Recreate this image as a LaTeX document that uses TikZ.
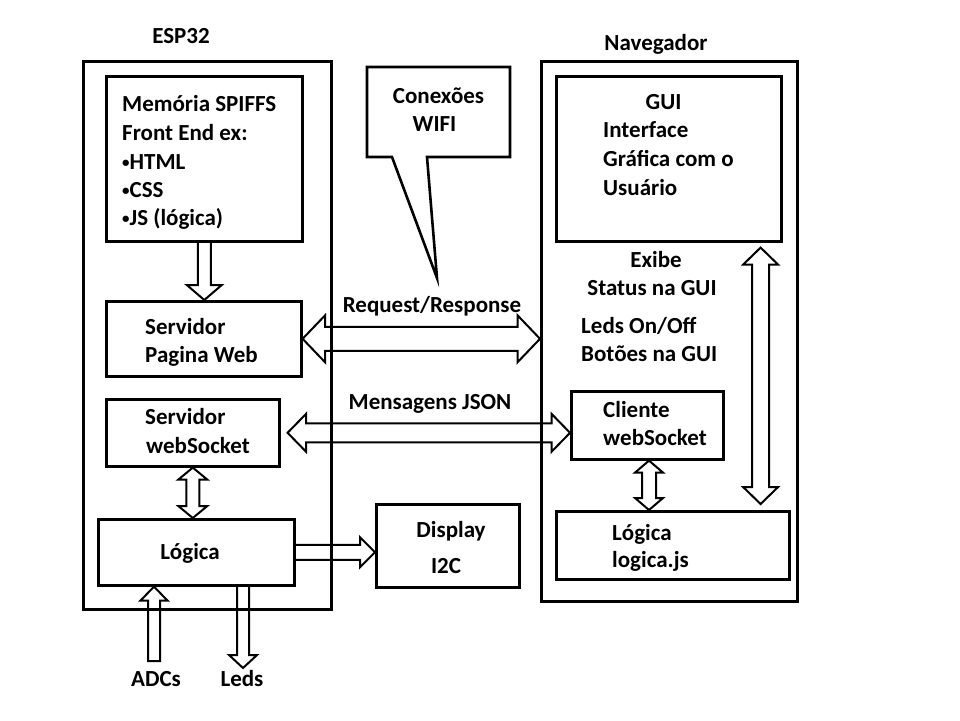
\documentclass[tikz,border=0pt]{standalone}
\usepackage{fontspec}
\setmainfont{Carlito}
\usetikzlibrary{calc}
\newcommand\smbul{\raisebox{1.6pt}{\scalebox{0.65}{•}}}
% horizontal double block arrow: left tip, right tip, shaft half, head half, head length
\newcommand\hdbl[5]{\draw[blk] let \p1=(#1), \p2=(#2) in
 (\x1,\y1) -- (\x1+#5,\y1+#4) -- (\x1+#5,\y1+#3) -- (\x2-#5,\y1+#3) -- (\x2-#5,\y1+#4) -- (\x2,\y1)
 -- (\x2-#5,\y1-#4) -- (\x2-#5,\y1-#3) -- (\x1+#5,\y1-#3) -- (\x1+#5,\y1-#4) -- cycle;}
% horizontal single block arrow to the right: tail, tip
\newcommand\hsgl[5]{\draw[blk] let \p1=(#1), \p2=(#2) in
 (\x1,\y1+#3) -- (\x2-#5,\y1+#3) -- (\x2-#5,\y1+#4) -- (\x2,\y1) -- (\x2-#5,\y1-#4) -- (\x2-#5,\y1-#3) -- (\x1,\y1-#3);}
% vertical double block arrow: top tip, bottom tip
\newcommand\vdbl[5]{\draw[blk] let \p1=(#1), \p2=(#2) in
 (\x1,\y1) -- (\x1+#4,\y1-#5) -- (\x1+#3,\y1-#5) -- (\x1+#3,\y2+#5) -- (\x1+#4,\y2+#5) -- (\x1,\y2)
 -- (\x1-#4,\y2+#5) -- (\x1-#3,\y2+#5) -- (\x1-#3,\y1-#5) -- (\x1-#4,\y1-#5) -- cycle;}
% vertical block arrow downwards: tail (top), tip (bottom)
\newcommand\vdown[5]{\draw[blk] let \p1=(#1), \p2=(#2) in
 (\x1-#3,\y1) -- (\x1-#3,\y2+#5) -- (\x1-#4,\y2+#5) -- (\x1,\y2) -- (\x1+#4,\y2+#5) -- (\x1+#3,\y2+#5) -- (\x1+#3,\y1);}
% vertical block arrow upwards: tail (bottom), tip (top)
\newcommand\vup[5]{\draw[blk] let \p1=(#1), \p2=(#2) in
 (\x1-#3,\y1) -- (\x1-#3,\y2-#5) -- (\x1-#4,\y2-#5) -- (\x1,\y2) -- (\x1+#4,\y2-#5) -- (\x1+#3,\y2-#5) -- (\x1+#3,\y1) -- cycle;}
\begin{document}
\begin{tikzpicture}[x=1pt,y=-1pt,
  box/.style={draw, line width=2.6pt, inner sep=0pt, anchor=north west},
  lbl/.style={font=\fontsize{23}{28}\selectfont\bfseries, inner sep=0pt, anchor=base west},
  clbl/.style={lbl, anchor=base},
  blk/.style={draw, line width=2pt, line join=miter}]
\useasboundingbox (0,0) rectangle (960,720);
\fill[white] (0,0) rectangle (960,720);

% boxes
\node[box, minimum width=248pt, minimum height=548pt] (esp) at (82,60) {};
\node[box, minimum width=196pt, minimum height=165pt] (mem) at (105,75) {};
\node[box, minimum width=195pt, minimum height=75pt] (srv) at (105,300) {};
\node[box, minimum width=173pt, minimum height=67pt] (ws) at (105,398) {};
\node[box, minimum width=196pt, minimum height=66pt] (lg) at (97,518) {};
\node[box, minimum width=143pt, minimum height=83pt] (disp) at (375,503) {};
\node[box, minimum width=256pt, minimum height=540pt] (nav) at (540,60) {};
\node[box, minimum width=225pt, minimum height=165pt] (gui) at (555,75) {};
\node[box, minimum width=152pt, minimum height=68pt] (cli) at (570,390) {};
\node[box, minimum width=233pt, minimum height=68pt] (nlg) at (555,510) {};

% speech bubble
\draw[line width=2.6pt, line join=miter] (367,67) -- (510,67) -- (510,157) -- (427,157) -- (437,278) -- (392,157) -- (367,157) -- cycle;

% titles
\node[clbl] (tesp) at (181,43) {ESP32};
\node[clbl] (tnav) at (656,50) {Navegador};

% texts ESP32
\node[lbl] (m1) at (122,111) {Memória SPIFFS};
\node[lbl] (m2) at (122,140) {Front End ex:};
\node[lbl] (m3) at (122,169) {\smbul HTML};
\node[lbl] (m4) at (122,197) {\smbul CSS};
\node[lbl] (m5) at (122,225) {\smbul JS (lógica)};
\node[lbl] (s1) at (145,334) {Servidor};
\node[lbl] (s2) at (145,362) {Pagina Web};
\node[lbl] (w1) at (145,424) {Servidor};
\node[lbl] (w2) at (146,453) {webSocket};
\node[clbl] (l1) at (190,559) {Lógica};
\node[clbl] (d1) at (451,537) {Display};
\node[clbl] (d2) at (446,573) {I2C};
\node[clbl] (adc) at (156,686) {ADCs};
\node[clbl] (leds) at (242,686) {Leds};

% middle texts
\node[clbl] (rr) at (432,312) {Request/Response};
\node[clbl] (mj) at (430,409) {Mensagens JSON};
\node[clbl] (c1) at (438.5,103) {Conexões};
\node[clbl] (c2) at (434.5,131) {WIFI};

% texts Navegador
\node[clbl] (g0) at (663.5,109) {GUI};
\node[lbl] (g1) at (603,137) {Interface};
\node[lbl] (g2) at (603,166) {Gráfica com o};
\node[lbl] (g3) at (603,195) {Usuário};
\node[clbl] (e1) at (656,267) {Exibe};
\node[clbl] (e2) at (652,295) {Status na GUI};
\node[lbl] (b1) at (581,333) {Leds On/Off};
\node[lbl] (b2) at (581,361) {Botões na GUI};
\node[lbl] (k1) at (603,417) {Cliente};
\node[lbl] (k2) at (603,445) {webSocket};
\node[lbl] (n1) at (612,540) {Lógica};
\node[lbl] (n2) at (612,567) {logica.js};

% connector coordinates
\coordinate (jsl) at ($(ws.east)+(7,0)$);
\coordinate (adct) at (154,661);
\coordinate (ledt) at (243,668);
\coordinate (clix) at (649,0);
\coordinate (bigt) at ($(gui.south east)+(-22,5)$);
\coordinate (bigb) at ($(bigt |- nlg.north)+(0,-6)$);

% block arrows
\vdown{mem.south}{mem.south |- srv.north}{6.5pt}{17.5pt}{15pt}
\hdbl{srv.east}{nav.west |- srv.east}{12pt}{23.5pt}{22.5pt}
\hdbl{jsl}{cli.west |- jsl}{9.5pt}{19pt}{18.5pt}
\vdbl{ws.south}{ws.south |- lg.north}{6.5pt}{14.5pt}{12pt}
\hsgl{lg.east}{disp.west |- lg.east}{7.5pt}{15pt}{15pt}
\vup{adct}{adct |- lg.south}{6pt}{13.5pt}{14pt}
\vdown{ledt |- lg.south}{ledt}{6pt}{14pt}{13pt}
\vdbl{clix |- cli.south}{clix |- nlg.north}{7pt}{14pt}{12pt}
\vdbl{bigt}{bigb}{8.5pt}{17.5pt}{17pt}
\end{tikzpicture}
\end{document}
